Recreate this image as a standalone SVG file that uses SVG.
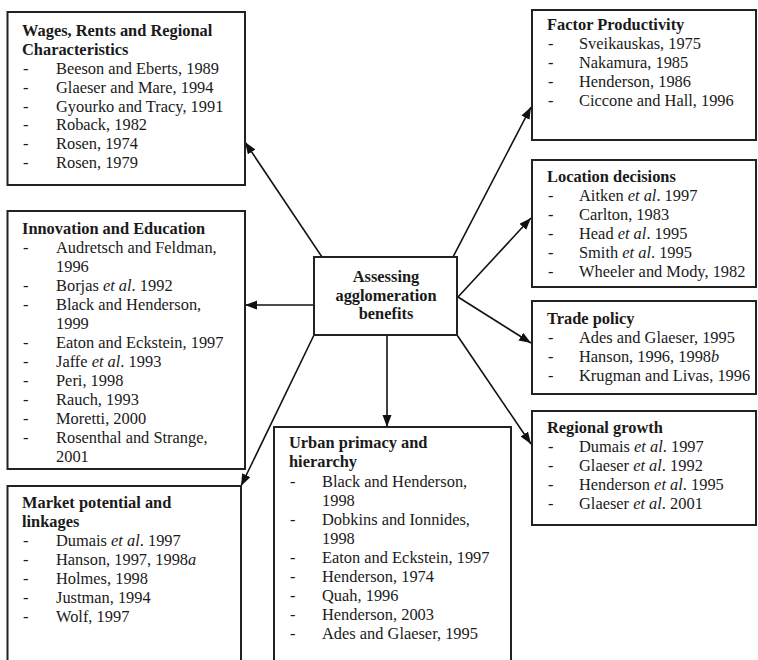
<svg xmlns="http://www.w3.org/2000/svg" width="758" height="660" viewBox="0 0 758 660">
<defs>
<style>
.box{fill:#fff;stroke:#222;stroke-width:2}
.t{font-family:"Liberation Serif","Times New Roman",serif;font-size:16.4px;fill:#1a1a1a}
.b{font-weight:bold}
.i{font-style:italic}
.c{text-anchor:middle}
.conn{stroke:#111;stroke-width:1.6;fill:none;marker-end:url(#ah)}
</style>
<marker id="ah" markerUnits="userSpaceOnUse" markerWidth="13" markerHeight="10" refX="12" refY="4.5" orient="auto">
<path d="M0,0 L12,4.5 L0,9 Z" fill="#111"/>
</marker>
</defs>
<rect width="758" height="660" fill="#fff"/>

<g id="connectors">
<line class="conn" x1="322" y1="257" x2="245" y2="142"/>
<line class="conn" x1="314" y1="305" x2="245" y2="305"/>
<line class="conn" x1="314" y1="335" x2="241" y2="486"/>
<line class="conn" x1="387" y1="335" x2="387" y2="427"/>
<line class="conn" x1="457" y1="335" x2="531" y2="444"/>
<line class="conn" x1="458" y1="297" x2="531" y2="343"/>
<line class="conn" x1="458" y1="297" x2="531" y2="218"/>
<line class="conn" x1="453" y1="257" x2="531" y2="107"/>
</g>

<g id="wages">
<rect class="box" x="7.5" y="12" width="237.5" height="173"/>
<text class="t b" x="22" y="36">Wages, Rents and Regional</text>
<text class="t b" x="22" y="55">Characteristics</text>
<text class="t" x="23" y="74">-</text><text class="t" x="56" y="74">Beeson and Eberts, 1989</text>
<text class="t" x="23" y="93">-</text><text class="t" x="56" y="93">Glaeser and Mare, 1994</text>
<text class="t" x="23" y="112">-</text><text class="t" x="56" y="112">Gyourko and Tracy, 1991</text>
<text class="t" x="23" y="130">-</text><text class="t" x="56" y="130">Roback, 1982</text>
<text class="t" x="23" y="149">-</text><text class="t" x="56" y="149">Rosen, 1974</text>
<text class="t" x="23" y="168">-</text><text class="t" x="56" y="168">Rosen, 1979</text>
</g>

<g id="innovation">
<rect class="box" x="7.5" y="211" width="237.5" height="258"/>
<text class="t b" x="22" y="234">Innovation and Education</text>
<text class="t" x="23" y="253">-</text><text class="t" x="56" y="253">Audretsch and Feldman,</text>
<text class="t" x="56" y="272">1996</text>
<text class="t" x="23" y="291">-</text><text class="t" x="56" y="291">Borjas <tspan class="i">et al</tspan>. 1992</text>
<text class="t" x="23" y="310">-</text><text class="t" x="56" y="310">Black and Henderson,</text>
<text class="t" x="56" y="329">1999</text>
<text class="t" x="23" y="348">-</text><text class="t" x="56" y="348">Eaton and Eckstein, 1997</text>
<text class="t" x="23" y="367">-</text><text class="t" x="56" y="367">Jaffe <tspan class="i">et al</tspan>. 1993</text>
<text class="t" x="23" y="386">-</text><text class="t" x="56" y="386">Peri, 1998</text>
<text class="t" x="23" y="405">-</text><text class="t" x="56" y="405">Rauch, 1993</text>
<text class="t" x="23" y="424">-</text><text class="t" x="56" y="424">Moretti, 2000</text>
<text class="t" x="23" y="443">-</text><text class="t" x="56" y="443">Rosenthal and Strange,</text>
<text class="t" x="56" y="462">2001</text>
</g>

<g id="market">
<rect class="box" x="7.5" y="486" width="233.5" height="182"/>
<text class="t b" x="22" y="508">Market potential and</text>
<text class="t b" x="22" y="527">linkages</text>
<text class="t" x="23" y="546">-</text><text class="t" x="56" y="546">Dumais <tspan class="i">et al</tspan>. 1997</text>
<text class="t" x="23" y="565">-</text><text class="t" x="56" y="565">Hanson, 1997, 1998<tspan class="i">a</tspan></text>
<text class="t" x="23" y="584">-</text><text class="t" x="56" y="584">Holmes, 1998</text>
<text class="t" x="23" y="603">-</text><text class="t" x="56" y="603">Justman, 1994</text>
<text class="t" x="23" y="622">-</text><text class="t" x="56" y="622">Wolf, 1997</text>
</g>

<g id="central">
<rect class="box" x="314" y="257" width="143" height="78"/>
<text class="t b c" x="386" y="282">Assessing</text>
<text class="t b c" x="386" y="301">agglomeration</text>
<text class="t b c" x="386" y="319">benefits</text>
</g>

<g id="urban">
<rect class="box" x="274" y="427" width="237" height="242"/>
<text class="t b" x="289" y="448">Urban primacy and</text>
<text class="t b" x="289" y="467">hierarchy</text>
<text class="t" x="290" y="487">-</text><text class="t" x="322" y="487">Black and Henderson,</text>
<text class="t" x="322" y="506">1998</text>
<text class="t" x="290" y="525">-</text><text class="t" x="322" y="525">Dobkins and Ionnides,</text>
<text class="t" x="322" y="544">1998</text>
<text class="t" x="290" y="563">-</text><text class="t" x="322" y="563">Eaton and Eckstein, 1997</text>
<text class="t" x="290" y="582">-</text><text class="t" x="322" y="582">Henderson, 1974</text>
<text class="t" x="290" y="601">-</text><text class="t" x="322" y="601">Quah, 1996</text>
<text class="t" x="290" y="620">-</text><text class="t" x="322" y="620">Henderson, 2003</text>
<text class="t" x="290" y="639">-</text><text class="t" x="322" y="639">Ades and Glaeser, 1995</text>
</g>

<g id="factor">
<rect class="box" x="532" y="10" width="224" height="130"/>
<text class="t b" x="547" y="30">Factor Productivity</text>
<text class="t" x="548" y="49">-</text><text class="t" x="579" y="49">Sveikauskas, 1975</text>
<text class="t" x="548" y="68">-</text><text class="t" x="579" y="68">Nakamura, 1985</text>
<text class="t" x="548" y="87">-</text><text class="t" x="579" y="87">Henderson, 1986</text>
<text class="t" x="548" y="106">-</text><text class="t" x="579" y="106">Ciccone and Hall, 1996</text>
</g>

<g id="location">
<rect class="box" x="532" y="160" width="224" height="127"/>
<text class="t b" x="547" y="182">Location decisions</text>
<text class="t" x="548" y="201">-</text><text class="t" x="579" y="201">Aitken <tspan class="i">et al</tspan>. 1997</text>
<text class="t" x="548" y="220">-</text><text class="t" x="579" y="220">Carlton, 1983</text>
<text class="t" x="548" y="239">-</text><text class="t" x="579" y="239">Head <tspan class="i">et al</tspan>. 1995</text>
<text class="t" x="548" y="258">-</text><text class="t" x="579" y="258">Smith <tspan class="i">et al</tspan>. 1995</text>
<text class="t" x="548" y="277">-</text><text class="t" x="579" y="277">Wheeler and Mody, 1982</text>
</g>

<g id="trade">
<rect class="box" x="532" y="301" width="224" height="93"/>
<text class="t b" x="547" y="324">Trade policy</text>
<text class="t" x="548" y="343">-</text><text class="t" x="579" y="343">Ades and Glaeser, 1995</text>
<text class="t" x="548" y="362">-</text><text class="t" x="579" y="362">Hanson, 1996, 1998<tspan class="i">b</tspan></text>
<text class="t" x="548" y="381">-</text><text class="t" x="579" y="381">Krugman and Livas, 1996</text>
</g>

<g id="regional">
<rect class="box" x="532" y="411" width="224" height="114"/>
<text class="t b" x="547" y="433">Regional growth</text>
<text class="t" x="548" y="452">-</text><text class="t" x="579" y="452">Dumais <tspan class="i">et al</tspan>. 1997</text>
<text class="t" x="548" y="471">-</text><text class="t" x="579" y="471">Glaeser <tspan class="i">et al</tspan>. 1992</text>
<text class="t" x="548" y="490">-</text><text class="t" x="579" y="490">Henderson <tspan class="i">et al</tspan>. 1995</text>
<text class="t" x="548" y="509">-</text><text class="t" x="579" y="509">Glaeser <tspan class="i">et al</tspan>. 2001</text>
</g>
</svg>
